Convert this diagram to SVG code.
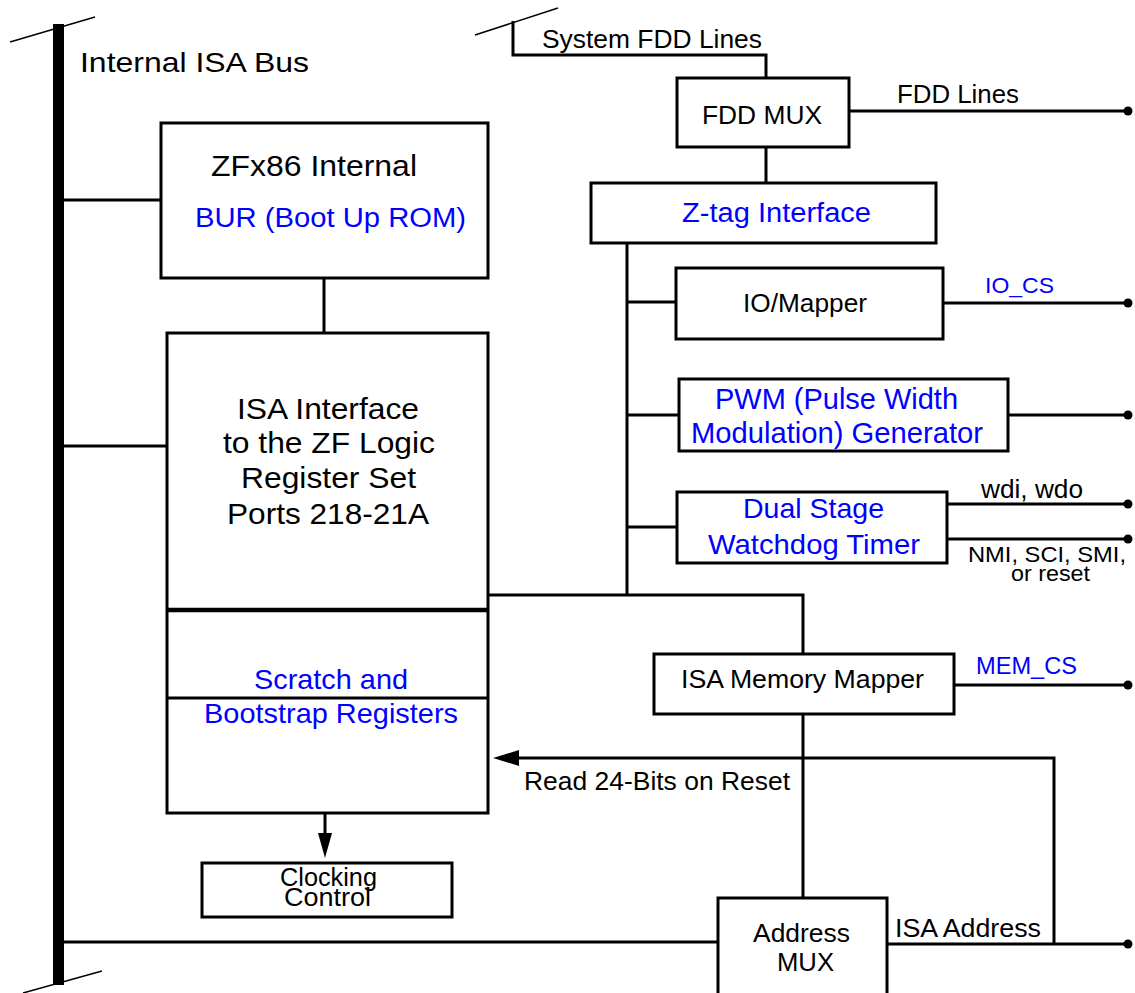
<svg xmlns="http://www.w3.org/2000/svg" width="1135" height="993" viewBox="0 0 1135 993">
<style>
text{font-family:"Liberation Sans",Arial,sans-serif;fill:#000}
.b{fill:#0000ff}
.box{fill:#fff;stroke:#000;stroke-width:3}
.ln{fill:none;stroke:#000;stroke-width:3}
.thin{fill:none;stroke:#000;stroke-width:1.5}
.dot{fill:#000}
</style>
<rect width="1135" height="993" fill="#fff"/>
<g id="bus">
<rect x="53" y="24" width="11" height="961" fill="#000"/>
<line class="thin" x1="10" y1="42" x2="95" y2="17"/>
<line class="thin" x1="23" y1="993" x2="102" y2="971"/>
<text x="80" y="72" font-size="28" textLength="229" lengthAdjust="spacingAndGlyphs">Internal ISA Bus</text>
</g>
<g id="connectors">
<line class="ln" x1="63" y1="200" x2="167" y2="200"/>
<line class="ln" x1="63" y1="446" x2="167" y2="446"/>
<line class="ln" x1="324" y1="278" x2="324" y2="333"/>
<line class="ln" x1="63" y1="942" x2="718" y2="942"/>
<line class="ln" x1="325" y1="813" x2="325" y2="835"/>
<polygon points="318,833 332,833 325,858" fill="#000"/>
<line class="thin" x1="475" y1="35" x2="558" y2="8"/>
<polyline class="ln" points="513,21 513,55 766,55 766,78"/>
<line class="ln" x1="766" y1="147" x2="766" y2="183"/>
<line class="ln" x1="849" y1="111" x2="1128" y2="111"/>
<line class="ln" x1="627" y1="243" x2="627" y2="595"/>
<line class="ln" x1="627" y1="302" x2="676" y2="302"/>
<line class="ln" x1="627" y1="415" x2="679" y2="415"/>
<line class="ln" x1="627" y1="527" x2="677" y2="527"/>
<line class="ln" x1="943" y1="303" x2="1128" y2="303"/>
<line class="ln" x1="1008" y1="415" x2="1128" y2="415"/>
<line class="ln" x1="947" y1="504" x2="1128" y2="504"/>
<line class="ln" x1="947" y1="539" x2="1128" y2="539"/>
<polyline class="ln" points="488,595 803,595 803,654"/>
<line class="ln" x1="954" y1="685" x2="1128" y2="685"/>
<line class="ln" x1="803" y1="714" x2="803" y2="898"/>
<line class="ln" x1="887" y1="944" x2="1128" y2="944"/>
<polyline class="ln" points="1054,944 1054,758 515,758"/>
<polygon points="493,758 519,750 519,766" fill="#000"/>
<circle class="dot" cx="1128" cy="111" r="4.5"/>
<circle class="dot" cx="1128" cy="303" r="4.5"/>
<circle class="dot" cx="1128" cy="415" r="4.5"/>
<circle class="dot" cx="1128" cy="504" r="4.5"/>
<circle class="dot" cx="1128" cy="539" r="4.5"/>
<circle class="dot" cx="1128" cy="685" r="4.5"/>
<circle class="dot" cx="1128" cy="944" r="4.5"/>
<text x="542" y="48" font-size="25" textLength="220" lengthAdjust="spacingAndGlyphs">System FDD Lines</text>
<text x="897" y="103" font-size="25" textLength="122" lengthAdjust="spacingAndGlyphs">FDD Lines</text>
<text class="b" x="985" y="293" font-size="22.5" textLength="69" lengthAdjust="spacingAndGlyphs">IO_CS</text>
<text x="981" y="498" font-size="25" textLength="102" lengthAdjust="spacingAndGlyphs">wdi, wdo</text>
<text x="968" y="562" font-size="22.5" textLength="158" lengthAdjust="spacingAndGlyphs">NMI, SCI, SMI,</text>
<text x="1011" y="581" font-size="22.5" textLength="79" lengthAdjust="spacingAndGlyphs">or reset</text>
<text class="b" x="976" y="674" font-size="23" textLength="101" lengthAdjust="spacingAndGlyphs">MEM_CS</text>
<text x="524" y="790" font-size="26" textLength="266" lengthAdjust="spacingAndGlyphs">Read 24-Bits on Reset</text>
<text x="895" y="937" font-size="26" textLength="146" lengthAdjust="spacingAndGlyphs">ISA Address</text>
</g>
<g id="zfx86">
<rect class="box" x="161" y="123" width="327" height="155"/>
<text x="211" y="176" font-size="29" textLength="206" lengthAdjust="spacingAndGlyphs">ZFx86 Internal</text>
<text class="b" x="195" y="227" font-size="27" textLength="271" lengthAdjust="spacingAndGlyphs">BUR (Boot Up ROM)</text>
</g>
<g id="isa-interface">
<rect class="box" x="167" y="333" width="321" height="480"/>
<line x1="167" y1="610" x2="488" y2="610" stroke="#000" stroke-width="4.5"/>
<line class="ln" x1="167" y1="698" x2="488" y2="698"/>
<text x="237" y="419" font-size="30" textLength="182" lengthAdjust="spacingAndGlyphs">ISA Interface</text>
<text x="223" y="453" font-size="30" textLength="212" lengthAdjust="spacingAndGlyphs">to the ZF Logic</text>
<text x="241" y="488" font-size="30" textLength="175" lengthAdjust="spacingAndGlyphs">Register Set</text>
<text x="227" y="524" font-size="30" textLength="202" lengthAdjust="spacingAndGlyphs">Ports 218-21A</text>
</g>
<g id="scratch">
<text class="b" x="254" y="689" font-size="28" textLength="154" lengthAdjust="spacingAndGlyphs">Scratch and</text>
<text class="b" x="204" y="723" font-size="28" textLength="254" lengthAdjust="spacingAndGlyphs">Bootstrap Registers</text>
</g>
<g id="clocking">
<rect class="box" x="202" y="863" width="250" height="54"/>
<text x="280" y="886" font-size="25" textLength="97" lengthAdjust="spacingAndGlyphs">Clocking</text>
<text x="284" y="906" font-size="25" textLength="87" lengthAdjust="spacingAndGlyphs">Control</text>
</g>
<g id="fdd-mux">
<rect class="box" x="677" y="78" width="172" height="69"/>
<text x="702" y="124" font-size="25.5" textLength="120" lengthAdjust="spacingAndGlyphs">FDD MUX</text>
</g>
<g id="ztag">
<rect class="box" x="591" y="183" width="345" height="60"/>
<text class="b" x="682" y="222" font-size="27" textLength="189" lengthAdjust="spacingAndGlyphs">Z-tag Interface</text>
</g>
<g id="io-mapper">
<rect class="box" x="676" y="268" width="267" height="71"/>
<text x="743" y="312" font-size="25" textLength="124" lengthAdjust="spacingAndGlyphs">IO/Mapper</text>
</g>
<g id="pwm">
<rect class="box" x="679" y="379" width="329" height="72"/>
<text class="b" x="715" y="409" font-size="29" textLength="243" lengthAdjust="spacingAndGlyphs">PWM (Pulse Width</text>
<text class="b" x="691" y="443" font-size="29" textLength="292" lengthAdjust="spacingAndGlyphs">Modulation) Generator</text>
</g>
<g id="watchdog">
<rect class="box" x="677" y="492" width="270" height="71"/>
<text class="b" x="743" y="518" font-size="28.5" textLength="141" lengthAdjust="spacingAndGlyphs">Dual Stage</text>
<text class="b" x="708" y="554" font-size="28.5" textLength="212" lengthAdjust="spacingAndGlyphs">Watchdog Timer</text>
</g>
<g id="mem-mapper">
<rect class="box" x="654" y="654" width="300" height="60"/>
<text x="681" y="688" font-size="26" textLength="243" lengthAdjust="spacingAndGlyphs">ISA Memory Mapper</text>
</g>
<g id="address-mux">
<rect class="box" x="718" y="898" width="169" height="110"/>
<text x="753" y="942" font-size="26" textLength="97" lengthAdjust="spacingAndGlyphs">Address</text>
<text x="777" y="971" font-size="26" textLength="57" lengthAdjust="spacingAndGlyphs">MUX</text>
</g>
</svg>
